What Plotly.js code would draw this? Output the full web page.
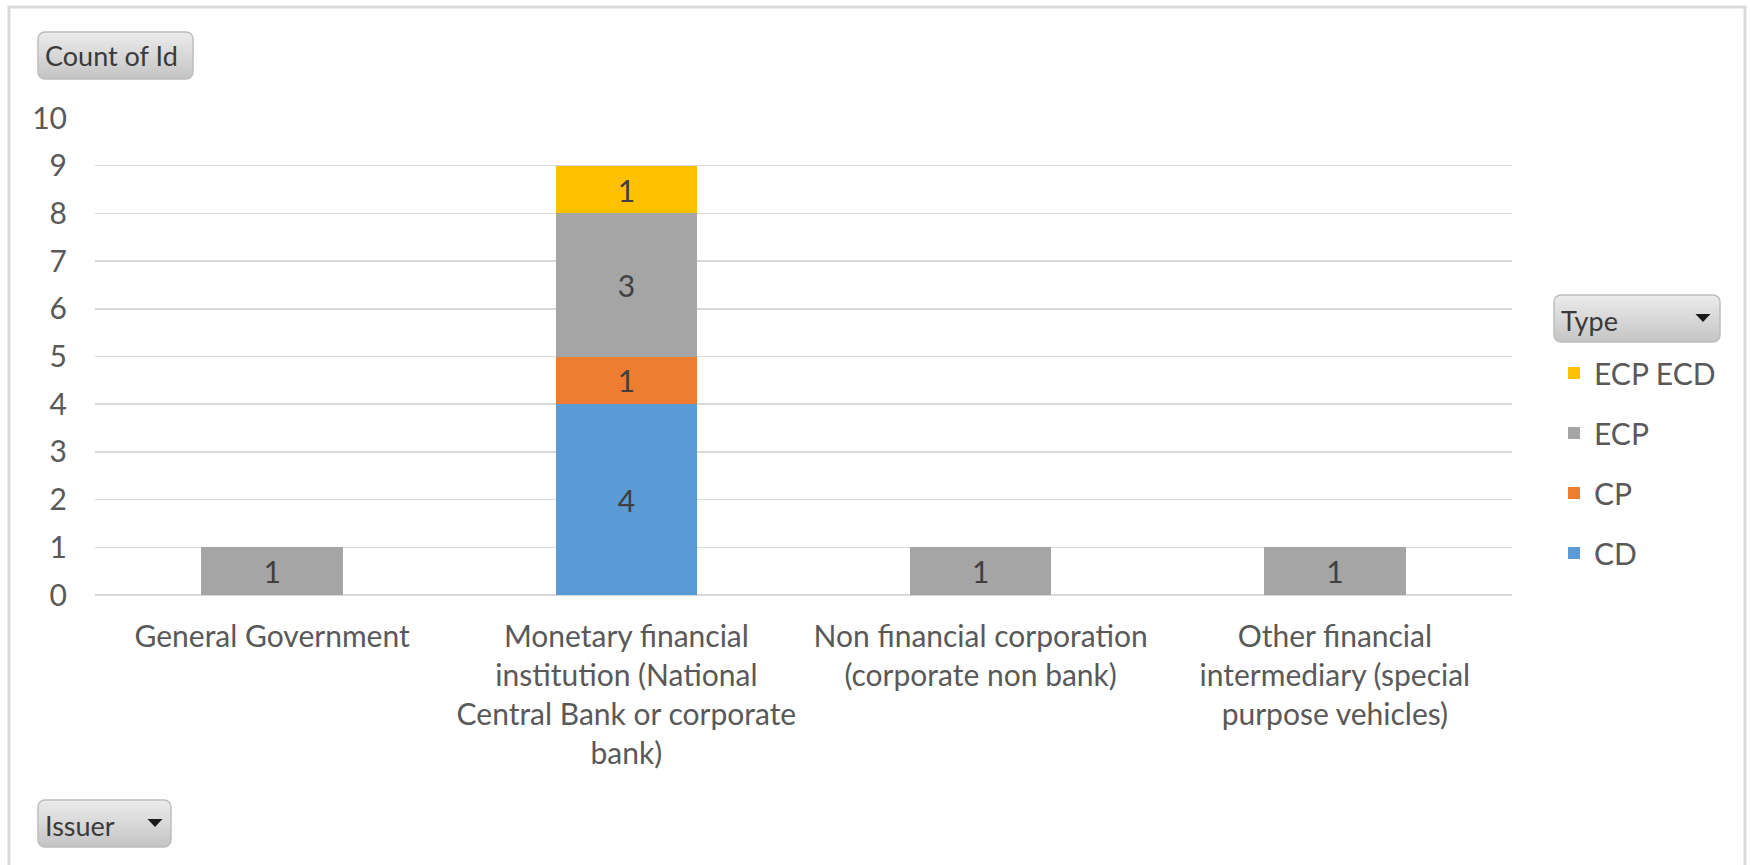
<!DOCTYPE html>
<html>
<head>
<meta charset="utf-8">
<script src="https://cdn.plot.ly/plotly-3.0.1.min.js"></script>
<style>html,body{margin:0;padding:0;background:#fff;}#chart{width:1750px;height:865px;}</style>
</head>
<body>
<div id="chart"></div>
<script>
// ---- data ----
var categories = [
  'General Government',
  'Monetary financial institution (National Central Bank or corporate bank)',
  'Non financial corporation (corporate non bank)',
  'Other financial intermediary (special purpose vehicles)'
];
var tickLabels = [
  'General Government',
  'Monetary financial<br>institution (National<br>Central Bank or corporate<br>bank)',
  'Non financial corporation<br>(corporate non bank)',
  'Other financial<br>intermediary (special<br>purpose vehicles)'
];
var seriesNames = ['CD', 'CP', 'ECP', 'ECP ECD'];
var cdValues     = [null, 4, null, null];
var cpValues     = [null, 1, null, null];
var ecpValues    = [1, 3, 1, 1];
var ecpEcdValues = [null, 1, null, null];
var yTicks = [0, 1, 2, 3, 4, 5, 6, 7, 8, 9, 10];
var valueTitle = 'Count of Id';
var legendTitle = 'Type';
var axisFieldTitle = 'Issuer';

// ---- styles ----
var colors = ['#5B9BD5', '#ED7D31', '#A5A5A5', '#FFC000'];
var FONT = 'Lato, "Open Sans", sans-serif';
var FS = 30;
var W = 1750, H = 865;
var M = {l: 95, r: 238, t: 118, b: 270};
var PW = W - M.l - M.r, PH = H - M.t - M.b;
function px(x) { return (x - M.l) / PW; }
function py(y) { return (H - M.b - y) / PH; }

var allValues = [cdValues, cpValues, ecpValues, ecpEcdValues];
var traces = allValues.map(function (vals, i) {
  return {
    type: 'bar',
    name: seriesNames[i],
    x: categories,
    y: vals,
    text: vals.map(function (v) { return v == null ? '' : String(v); }),
    textposition: 'inside',
    insidetextanchor: 'middle',
    constraintext: 'none',
    textfont: {family: FONT, size: FS, color: '#404040'},
    marker: {color: colors[i], line: {width: 0}},
    legendgroup: 'g' + i,
    legendrank: 100 - i,
    hoverinfo: 'x+y+name'
  };
});

function btnSvg(w, h) {
  var s = '<svg xmlns="http://www.w3.org/2000/svg" width="' + w + '" height="' + h + '" viewBox="0 0 ' + w + ' ' + h + '">' +
    '<defs><linearGradient id="g" x1="0" y1="0" x2="0" y2="1">' +
    '<stop offset="0" stop-color="#ececec"/><stop offset="1" stop-color="#c4c4c4"/></linearGradient></defs>' +
    '<rect x="1" y="1" width="' + (w - 2) + '" height="' + (h - 2) + '" rx="7" ry="7" fill="url(#g)" stroke="#bdbdbd" stroke-width="1.5"/></svg>';
  return 'data:image/svg+xml;base64,' + btoa(s);
}
function btnImage(x0, y0, x1, y1) {
  return {
    source: btnSvg(x1 - x0, y1 - y0), xref: 'paper', yref: 'paper',
    x: px(x0), y: py(y0), sizex: (x1 - x0) / PW, sizey: (y1 - y0) / PH,
    xanchor: 'left', yanchor: 'top', sizing: 'stretch', layer: 'above'
  };
}
function arrow(cx, cy) {
  var x0 = px(cx - 7.5), x1 = px(cx + 7.5), xm = px(cx);
  var y0 = py(cy - 4), y1 = py(cy + 4);
  return {type: 'path', xref: 'paper', yref: 'paper',
    path: 'M' + x0 + ',' + y0 + ' L' + x1 + ',' + y0 + ' L' + xm + ',' + y1 + ' Z',
    fillcolor: '#1a1a1a', line: {width: 0}, layer: 'above'};
}

var layout = {
  width: W, height: H,
  margin: M,
  paper_bgcolor: '#ffffff',
  plot_bgcolor: '#ffffff',
  barmode: 'stack',
  bargap: 0.6,
  font: {family: FONT, size: FS, color: '#595959'},
  showlegend: true,
  legend: {
    x: px(1554), y: py(347), xanchor: 'left', yanchor: 'top',
    traceorder: 'grouped',
    tracegroupgap: 18,
    font: {family: FONT, size: FS, color: '#595959'},
    bgcolor: 'rgba(0,0,0,0)'
  },
  xaxis: {
    type: 'category',
    tickmode: 'array',
    tickvals: categories,
    ticktext: tickLabels,
    tickangle: 0,
    ticks: '',
    showgrid: false,
    showline: false,
    zeroline: false,
    ticklabelstandoff: 21,
    tickfont: {family: FONT, size: FS, color: '#595959'},
    fixedrange: true
  },
  yaxis: {
    range: [0, 10],
    tickmode: 'array',
    tickvals: yTicks,
    ticks: '',
    showgrid: true,
    gridcolor: '#d9d9d9',
    gridwidth: 1.5,
    zeroline: true,
    zerolinecolor: '#d9d9d9',
    zerolinewidth: 1.5,
    showline: false,
    ticklabelstandoff: 27,
    tickfont: {family: FONT, size: FS, color: '#595959'},
    fixedrange: true
  },
  images: [
    btnImage(37, 31, 194, 80),
    btnImage(1553, 294, 1721, 343),
    btnImage(37, 799, 172, 848)
  ],
  shapes: [
    {type: 'rect', xref: 'paper', yref: 'paper',
     x0: px(9), x1: px(1745), y0: py(7), y1: py(880),
     line: {color: '#d9d9d9', width: 3}, fillcolor: 'rgba(0,0,0,0)', layer: 'below'},
    arrow(1703, 318),
    arrow(155, 823)
  ],
  annotations: [
    {text: valueTitle, xref: 'paper', yref: 'paper', x: px(43), y: py(56), xanchor: 'left', yanchor: 'middle',
     showarrow: false, font: {family: FONT, size: 27, color: '#3a3a3a'}},
    {text: legendTitle, xref: 'paper', yref: 'paper', x: px(1559), y: py(320), xanchor: 'left', yanchor: 'middle',
     showarrow: false, font: {family: FONT, size: 27, color: '#3a3a3a'}},
    {text: axisFieldTitle, xref: 'paper', yref: 'paper', x: px(43), y: py(825), xanchor: 'left', yanchor: 'middle',
     showarrow: false, font: {family: FONT, size: 27, color: '#3a3a3a'}}
  ]
};

Plotly.newPlot('chart', traces, layout, {displayModeBar: false, staticPlot: true});
</script>
</body>
</html>
